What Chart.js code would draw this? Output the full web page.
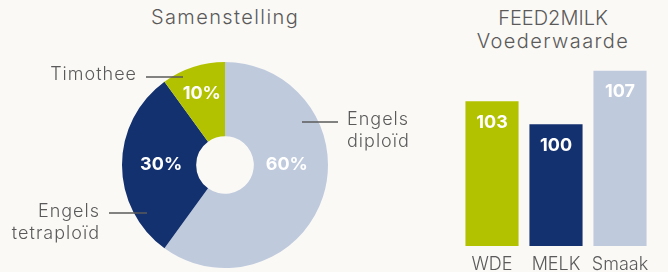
<!DOCTYPE html>
<html>
<head>
<meta charset="utf-8">
<script src="https://cdn.jsdelivr.net/npm/chart.js@4.4.0/dist/chart.umd.min.js"></script>
<style>
html, body { margin: 0; padding: 0; background: #faf9f6; }
body { width: 668px; height: 272px; position: relative; overflow: hidden; font-family: Inter, sans-serif; color: #5a5a5a; }
.title { position: absolute; text-align: center; font-weight: 300; font-size: 20px; line-height: 23px; white-space: nowrap; }
.wide { letter-spacing: 1.4px; }
#pieWrap { position: absolute; left: 0; top: 0; width: 450px; height: 272px; }
#barWrap { position: absolute; left: 440px; top: 0; width: 228px; height: 272px; }
</style>
</head>
<body>
<div class="title wide" style="left:125px;top:6px;width:200px">Samenstelling</div>
<div class="title" style="left:453px;top:7px;width:200px">FEED2MILK<br><span class="wide">Voederwaarde</span></div>
<div id="pieWrap"><canvas id="pie"></canvas></div>
<div id="barWrap"><canvas id="bar"></canvas></div>
<script>
const mixLabels = [['Engels', 'diploïd'], ['Engels', 'tetraploïd'], ['Timothee']];
const mixValues = [60, 30, 10];
const mixColors = ['#bfcadd', '#14316f', '#b2c200'];

const feedLabels = ['WDE', 'MELK', 'Smaak'];
const feedValues = [103, 100, 107];
const feedColors = ['#b2c200', '#14316f', '#bfcadd'];

const textGrey = '#5a5a5a';
const fontFam = 'Inter, sans-serif';

// percentages inside the slices + labels with a short leader line outside
const pieLabels = {
  id: 'pieLabels',
  afterDatasetsDraw(chart) {
    const c = chart.ctx;
    const arcs = chart.getDatasetMeta(0).data;
    const total = mixValues.reduce((a, b) => a + b, 0);
    const radFactor = [0.6, 0.62, 0.73];
    c.save();
    arcs.forEach((arc, i) => {
      const p = arc.getProps(['x', 'y', 'startAngle', 'endAngle', 'outerRadius']);
      let ang = (p.startAngle + p.endAngle) / 2;
      if (i === 0) ang = 0;
      const r = p.outerRadius * radFactor[i];
      c.fillStyle = '#ffffff';
      c.font = '700 18px ' + fontFam;
      c.textAlign = 'center';
      c.textBaseline = 'middle';
      c.fillText(Math.round(mixValues[i] / total * 100) + '%', p.x + Math.cos(ang) * r, p.y + Math.sin(ang) * r);
    });

    const cx = arcs[0].x, cy = arcs[0].y;
    // [line x1, line x2, line y, text x, text align, first text line y]
    const callouts = [
      [77, 113, -43, 122, 'left', -45],
      [-116, -78, 48, -125, 'right', 47],
      [-79, -42, -88, -88, 'right', -90]
    ];
    c.strokeStyle = '#5a5a5a';
    c.lineWidth = 1.3;
    c.fillStyle = textGrey;
    c.font = '300 18px ' + fontFam;
    c.letterSpacing = '1px';
    callouts.forEach((o, i) => {
      c.beginPath();
      c.moveTo(cx + o[0], cy + o[2]);
      c.lineTo(cx + o[1], cy + o[2]);
      c.stroke();
      c.textAlign = o[4];
      mixLabels[i].forEach((t, k) => c.fillText(t, cx + o[3], cy + o[5] + k * 22));
    });
    c.restore();
  }
};

new Chart(document.getElementById('pie'), {
  type: 'doughnut',
  data: {
    labels: mixLabels.map(l => l.join(' ')),
    datasets: [{ data: mixValues, backgroundColor: mixColors, borderWidth: 0 }]
  },
  options: {
    responsive: true,
    maintainAspectRatio: false,
    animation: false,
    cutout: '28%',
    layout: { padding: { top: 62, bottom: 4, left: 122, right: 122 } },
    plugins: { legend: { display: false }, tooltip: { enabled: false } }
  },
  plugins: [pieLabels]
});

// value inside the top of each bar
const barValues = {
  id: 'barValues',
  afterDatasetsDraw(chart) {
    const c = chart.ctx;
    c.save();
    c.fillStyle = '#ffffff';
    c.font = '700 18px ' + fontFam;
    c.textAlign = 'center';
    c.textBaseline = 'middle';
    chart.getDatasetMeta(0).data.forEach((bar, i) => {
      c.fillText(feedValues[i], bar.x, bar.y + 21);
    });
    c.restore();
  }
};

new Chart(document.getElementById('bar'), {
  type: 'bar',
  data: {
    labels: feedLabels,
    datasets: [{ data: feedValues, backgroundColor: feedColors, barPercentage: 0.83, categoryPercentage: 1 }]
  },
  options: {
    responsive: true,
    maintainAspectRatio: false,
    animation: false,
    layout: { padding: { left: 20, right: 16, top: 48, bottom: 0 } },
    plugins: { legend: { display: false }, tooltip: { enabled: false } },
    scales: {
      y: { display: false, min: 84, max: 110 },
      x: {
        afterFit(scale) { scale.height = 26; },
        grid: { display: false, drawTicks: false },
        border: { display: false },
        ticks: { color: textGrey, padding: 8, font: { family: fontFam, size: 18, weight: 300 } }
      }
    }
  },
  plugins: [barValues]
});
</script>
</body>
</html>
